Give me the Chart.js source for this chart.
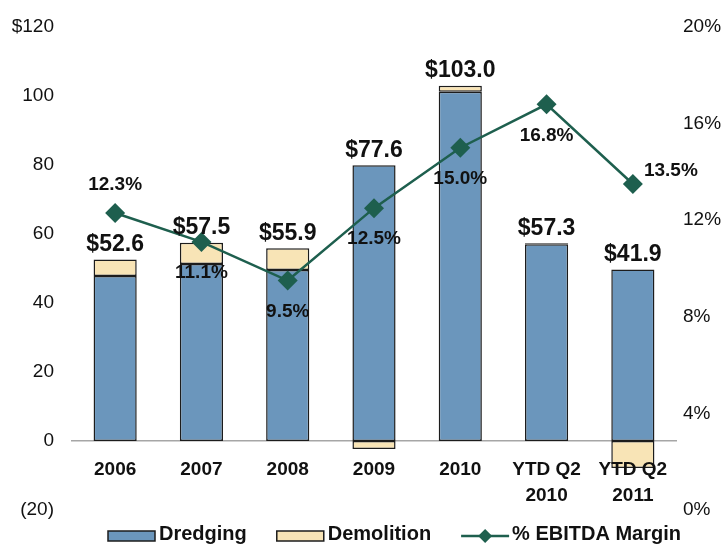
<!DOCTYPE html>
<html>
<head>
<meta charset="utf-8">
<script src="https://cdn.jsdelivr.net/npm/chart.js@4/dist/chart.umd.min.js"></script>
<style>
  html, body { margin: 0; padding: 0; background: #fff; }
  #wrap { width: 726px; height: 544px; }
</style>
</head>
<body>
<div id="wrap"><canvas id="myChart"></canvas></div>
<script>
// values ($ millions / %)
const categories = ['2006', '2007', '2008', '2009', '2010', ['YTD Q2', '2010'], ['YTD Q2', '2011']];
const dredging = [47.8, 51.3, 49.6, 79.9, 101.2, 57.0, 49.7];
const demolition = [4.8, 6.2, 6.3, -2.3, 1.8, 0.3, -7.8];
const ebitdaMargin = [12.3, 11.1, 9.5, 12.5, 15.0, 16.8, 13.5];
const leftTickLabels = ['(20)', '0', '20', '40', '60', '80', '100', '$120'];
const rightTickLabels = ['0%', '4%', '8%', '12%', '16%', '20%'];
// where each margin label sits relative to its point
const marginLabelSide = ['above', 'below', 'below', 'below', 'below', 'below', 'right'];

const FONT = '"Liberation Sans", Arial, sans-serif';

const valueLabels = {
    id: 'valueLabels',
    afterDatasetsDraw(chart) {
        const ctx = chart.ctx;
        const x = chart.scales.x, y = chart.scales.y;
        ctx.save();
        ctx.fillStyle = '#111';
        ctx.textAlign = 'center';

        // totals above the bars
        ctx.font = 'bold 23px ' + FONT;
        ctx.textBaseline = 'bottom';
        dredging.forEach((d, i) => {
            const total = d + demolition[i];
            const top = Math.max(d, 0) + Math.max(demolition[i], 0);
            ctx.fillText('$' + total.toFixed(1), x.getPixelForValue(i), y.getPixelForValue(top) - 3);
        });

        // margin labels
        ctx.font = 'bold 19px ' + FONT;
        ctx.textBaseline = 'middle';
        const pts = chart.getDatasetMeta(2).data;
        pts.forEach((p, i) => {
            let lx = p.x, ly = p.y;
            if (marginLabelSide[i] === 'above') ly -= 28;
            else if (marginLabelSide[i] === 'below') ly += 31;
            else { lx += 38; ly -= 13; }
            ctx.fillText(ebitdaMargin[i].toFixed(1) + '%', lx, ly);
        });
        ctx.restore();
    }
};

const bottomLegend = {
    id: 'bottomLegend',
    afterDraw(chart) {
        const ctx = chart.ctx;
        const y = 534;
        let x = 108;
        ctx.save();
        ctx.font = 'bold 20px ' + FONT;
        ctx.textBaseline = 'middle';
        chart.data.datasets.forEach(ds => {
            if (ds.type === 'line') {
                ctx.strokeStyle = ds.borderColor;
                ctx.lineWidth = 2.5;
                ctx.beginPath(); ctx.moveTo(x, y + 2); ctx.lineTo(x + 48, y + 2); ctx.stroke();
                ctx.fillStyle = ds.borderColor;
                ctx.beginPath();
                ctx.moveTo(x + 24, y - 5); ctx.lineTo(x + 31, y + 2);
                ctx.lineTo(x + 24, y + 9); ctx.lineTo(x + 17, y + 2);
                ctx.closePath(); ctx.fill();
            } else {
                ctx.fillStyle = ds.backgroundColor;
                ctx.fillRect(x, y - 3, 47, 10);
                ctx.strokeStyle = ds.borderColor;
                ctx.lineWidth = 1.5;
                ctx.strokeRect(x, y - 3, 47, 10);
            }
            ctx.fillStyle = '#111';
            ctx.fillText(ds.label, x + 51, y);
            x += 51 + ctx.measureText(ds.label).width + 30;
        });
        ctx.restore();
    }
};

// fixed axis widths so the plot spans the same area as the reference
function fixWidth(w) {
    return s => { s.width = w; s.paddingTop = 0; s.paddingBottom = 0; };
}

const ctx = document.getElementById('myChart').getContext('2d');
const chart = new Chart(ctx, {
    data: {
        labels: categories,
        datasets: [{
            type: 'bar',
            label: 'Dredging',
            data: dredging,
            backgroundColor: '#6b96bc',
            borderColor: '#1c1c1c',
            borderWidth: 1.5,
            borderSkipped: false,
            barPercentage: 0.5,
            categoryPercentage: 1,
            yAxisID: 'y',
            order: 2
        }, {
            type: 'bar',
            label: 'Demolition',
            data: demolition,
            backgroundColor: '#f8e4b6',
            borderColor: '#1c1c1c',
            borderWidth: 1.5,
            borderSkipped: false,
            barPercentage: 0.5,
            categoryPercentage: 1,
            yAxisID: 'y',
            order: 2
        }, {
            type: 'line',
            label: '% EBITDA Margin',
            data: ebitdaMargin,
            borderColor: '#1e5f4e',
            backgroundColor: '#1e5f4e',
            borderWidth: 2.5,
            tension: 0,
            pointStyle: 'rectRot',
            pointRadius: 10,
            pointBorderWidth: 0,
            yAxisID: 'y1',
            order: 1
        }]
    },
    options: {
        responsive: true,
        maintainAspectRatio: false,
        animation: false,
        layout: { padding: { left: 11, right: 4, top: 27, bottom: 34 } },
        plugins: {
            legend: { display: false },
            tooltip: { enabled: false }
        },
        scales: {
            x: {
                stacked: true,
                position: { y: 0 },
                afterFit: s => { s.paddingLeft = 0; s.paddingRight = 0; },
                grid: { display: true, drawOnChartArea: false, drawTicks: false },
                border: { display: true, color: '#a6a6a6', width: 1.5 },
                ticks: {
                    z: 1,
                    padding: 16,
                    color: '#111',
                    maxRotation: 0,
                    font: { family: FONT, size: 19, weight: 'bold', lineHeight: 1.35 }
                }
            },
            y: {
                stacked: true,
                min: -20,
                max: 120,
                afterFit: fixWidth(61),
                grid: { display: false, drawTicks: false },
                border: { display: false },
                ticks: {
                    stepSize: 20,
                    padding: 18,
                    color: '#111',
                    font: { family: FONT, size: 19 },
                    callback: (v, i) => leftTickLabels[i]
                }
            },
            y1: {
                position: 'right',
                min: 0,
                max: 20,
                afterFit: fixWidth(46),
                grid: { display: false, drawTicks: false },
                border: { display: false },
                ticks: {
                    stepSize: 4,
                    padding: 7,
                    color: '#111',
                    font: { family: FONT, size: 19 },
                    callback: (v, i) => rightTickLabels[i]
                }
            }
        }
    },
    plugins: [valueLabels, bottomLegend]
});
</script>
</body>
</html>
